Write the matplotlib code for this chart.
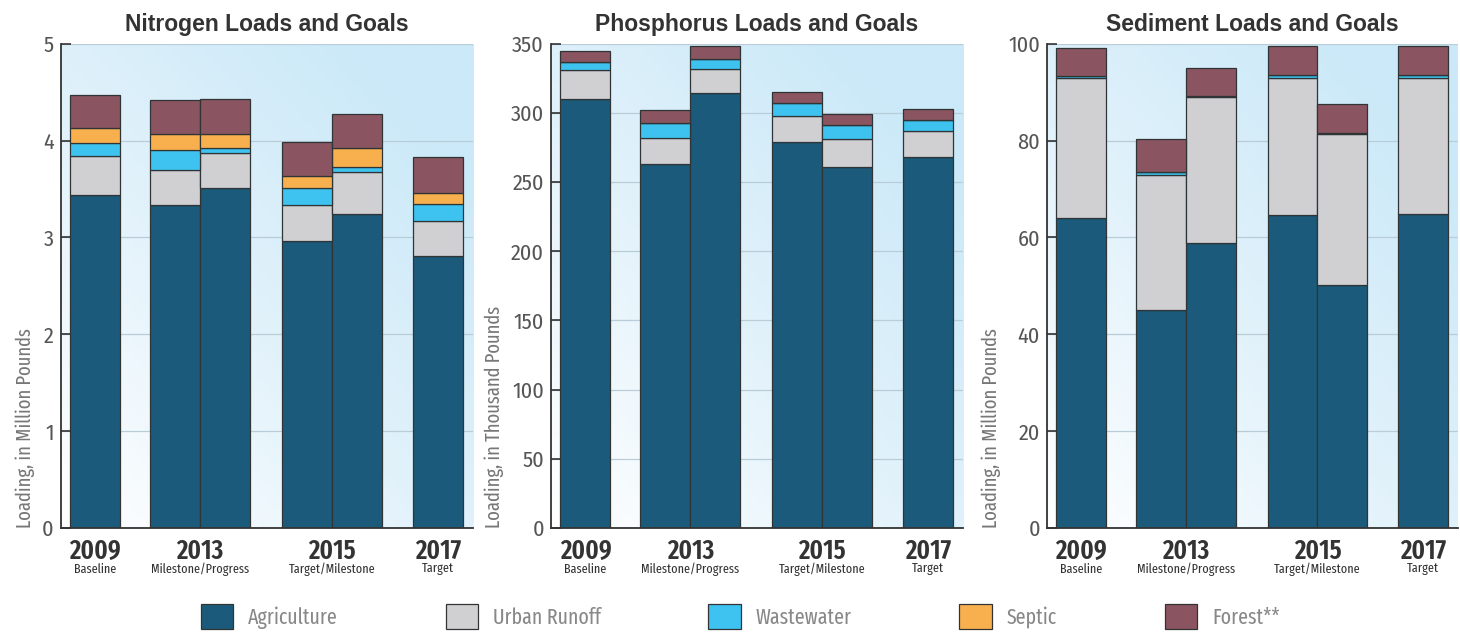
#!/usr/bin/env python3
import matplotlib
matplotlib.use('Agg')
import matplotlib.pyplot as plt
import numpy as np
from matplotlib.colors import LinearSegmentedColormap
from matplotlib.patches import Patch
from matplotlib.transforms import blended_transform_factory

# Legend / source categories
sources = ["Agriculture", "Urban Runoff", "Wastewater", "Septic", "Forest**"]
colors = ["#1b5a7b", "#d0d0d3", "#3ec3f0", "#f8b04e", "#8a5560"]

# x-axis groups (year, subtitle) and which bars belong to each
years = ["2009", "2013", "2015", "2017"]
subtitles = ["Baseline", "Milestone/Progress", "Target/Milestone", "Target"]
group_bars = [[0], [1, 2], [3, 4], [5]]

# Nitrogen, million pounds
nitrogen_agriculture = [3.44, 3.33, 3.51, 2.96, 3.24, 2.81]
nitrogen_urban = [0.40, 0.37, 0.36, 0.37, 0.43, 0.36]
nitrogen_wastewater = [0.13, 0.20, 0.05, 0.18, 0.06, 0.17]
nitrogen_septic = [0.16, 0.17, 0.15, 0.12, 0.19, 0.12]
nitrogen_forest = [0.34, 0.35, 0.36, 0.35, 0.35, 0.37]

# Phosphorus, thousand pounds
phosphorus_agriculture = [310, 263, 314, 279, 261, 268]
phosphorus_urban = [21, 19, 18, 19, 20, 19]
phosphorus_wastewater = [6, 11, 7, 9, 10, 8]
phosphorus_septic = [0, 0, 0, 0, 0, 0]
phosphorus_forest = [8, 9, 9, 8, 8, 8]

# Sediment, million pounds
sediment_agriculture = [64.1, 45.1, 58.9, 64.7, 50.2, 64.9]
sediment_urban = [28.9, 27.7, 30.0, 28.3, 31.1, 28.1]
sediment_wastewater = [0.3, 0.8, 0.3, 0.6, 0.3, 0.6]
sediment_septic = [0, 0, 0, 0, 0, 0]
sediment_forest = [5.8, 6.8, 5.7, 6.0, 5.9, 6.0]

NARROW = ['Fira Sans Condensed', 'DejaVu Sans']
XNARROW = ['Fira Sans Extra Condensed', 'DejaVu Sans']
BOLD = ['Liberation Sans', 'DejaVu Sans']

bar_x = np.array([0.69, 2.29, 3.29, 4.93, 5.93, 7.55])

bg_cmap = LinearSegmentedColormap.from_list("bg", ["#ffffff", "#e2f2fb", "#cbe9f8"])


def draw_panel(ax, title, ylabel, stacks, ymax, ystep):
    # gradient background, white top-left -> light blue bottom-right
    gx, gy = np.meshgrid(np.linspace(0, 1, 200), np.linspace(0, 1, 200))
    grad = np.clip(0.55 * gx + 0.6 * (1 - gy), 0, 1)
    ax.imshow(grad, cmap=bg_cmap, extent=[0, 1, 0, 1], transform=ax.transAxes,
              origin='upper', aspect='auto', zorder=0, vmin=0, vmax=1)

    bottom = np.zeros(len(bar_x))
    for vals, col in zip(stacks, colors):
        vals = np.array(vals, dtype=float)
        ax.bar(bar_x, vals, width=1.0, bottom=bottom, color=col,
               edgecolor="#2f3437", linewidth=0.9, zorder=3)
        bottom += vals

    ax.set_xlim(0, 8.25)
    ax.set_ylim(0, ymax)
    ticks = np.arange(0, ymax + ystep / 2, ystep)
    ax.set_yticks(ticks)
    ax.set_yticklabels([f"{t:g}" for t in ticks], family=NARROW, fontsize=16,
                       color="#555555")
    ax.tick_params(axis='y', direction='in', length=7, width=1.2, color="#333333", pad=5)
    ax.set_xticks([])
    ax.grid(axis='y', color="#b9cdd9", linewidth=0.9, zorder=1)
    ax.set_axisbelow(True)
    for s in ['top', 'right']:
        ax.spines[s].set_visible(False)
    for s in ['left', 'bottom']:
        ax.spines[s].set_color("#333333")
        ax.spines[s].set_linewidth(1.3)
        ax.spines[s].set_zorder(4)

    ax.set_title(title, family=BOLD, fontweight='bold', fontsize=16.5,
                 color="#333333", pad=9)
    ax.set_ylabel(ylabel, family=XNARROW, fontsize=14.5, color="#777777",
                  labelpad=5, loc='bottom')

    trans = blended_transform_factory(ax.transData, ax.transAxes)
    for yr, sub, idx in zip(years, subtitles, group_bars):
        xc = bar_x[idx].mean()
        ax.text(xc, -0.02, yr, transform=trans, ha='center', va='top',
                family=XNARROW, fontweight='semibold', fontsize=19.5, color="#333333")
        ax.text(xc, -0.072, sub, transform=trans, ha='center', va='top',
                family=XNARROW, fontsize=9.5, color="#333333")


def main():
    fig = plt.figure(figsize=(14.6, 6.33), dpi=100)
    bottom, top = 0.166, 0.931
    ax1 = fig.add_axes([0.0416, bottom, 0.2824, top - bottom])
    ax2 = fig.add_axes([0.3774, bottom, 0.2822, top - bottom])
    ax3 = fig.add_axes([0.7171, bottom, 0.2815, top - bottom])

    draw_panel(ax1, "Nitrogen Loads and Goals", "Loading, in Million Pounds",
               [nitrogen_agriculture, nitrogen_urban, nitrogen_wastewater,
                nitrogen_septic, nitrogen_forest], 5, 1)
    draw_panel(ax2, "Phosphorus Loads and Goals", "Loading, in Thousand Pounds",
               [phosphorus_agriculture, phosphorus_urban, phosphorus_wastewater,
                phosphorus_septic, phosphorus_forest], 350, 50)
    draw_panel(ax3, "Sediment Loads and Goals", "Loading, in Million Pounds",
               [sediment_agriculture, sediment_urban, sediment_wastewater,
                sediment_septic, sediment_forest], 100, 20)

    handles = [Patch(facecolor=c, edgecolor="#333333", linewidth=0.9) for c in colors]
    leg = fig.legend(handles, sources, loc='center', bbox_to_anchor=(0.507, 0.026),
                     ncol=5, frameon=False, prop={'family': XNARROW, 'size': 15.5},
                     handlelength=1.5, handleheight=1.45, handletextpad=0.7,
                     columnspacing=5.0, borderaxespad=0)
    for t in leg.get_texts():
        t.set_color("#888888")

    fig.savefig("out.png", dpi=100)
    plt.close(fig)


if __name__ == "__main__":
    main()
